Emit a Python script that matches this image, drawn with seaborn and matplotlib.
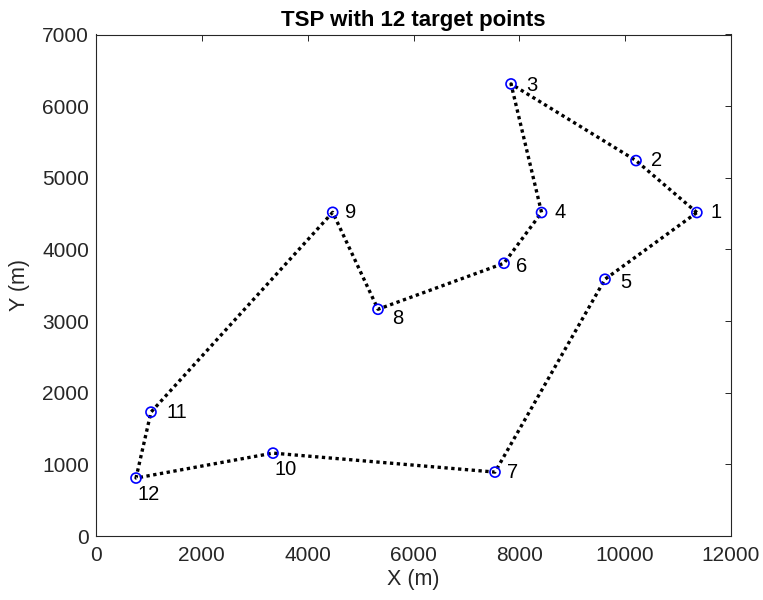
import matplotlib
matplotlib.use("Agg")
import matplotlib.pyplot as plt
import seaborn as sns
import pandas as pd

# Target point coordinates (metres), indexed 1..12
point_ids = [1, 2, 3, 4, 5, 6, 7, 8, 9, 10, 11, 12]
x_coords = [11355, 10205, 7843, 8420, 9619, 7710, 7540, 5329, 4473, 3345, 1039, 756]
y_coords = [4515, 5240, 6310, 4515, 3584, 3807, 892, 3165, 4518, 1157, 1729, 809]

# Visiting order of the tour (closed loop back to the start)
tour_order = [1, 2, 3, 4, 6, 8, 9, 11, 12, 10, 7, 5, 1]

# Tick values
x_ticks = [0, 2000, 4000, 6000, 8000, 10000, 12000]
y_ticks = [0, 1000, 2000, 3000, 4000, 5000, 6000, 7000]

points = pd.DataFrame({"id": point_ids, "x": x_coords, "y": y_coords})
tour = points.set_index("id").loc[tour_order].reset_index()

sns.set_style("white")
text_color = "#262626"
plt.rcParams["font.family"] = ["Liberation Sans", "DejaVu Sans"]
plt.rcParams["text.color"] = text_color
plt.rcParams["axes.labelcolor"] = text_color
plt.rcParams["xtick.color"] = text_color
plt.rcParams["ytick.color"] = text_color

fig = plt.figure(figsize=(7.63, 6.0), dpi=100)
ax = fig.add_axes([96 / 763, 1 - 536 / 600, (731 - 96) / 763, (536 - 34.5) / 600])

sns.lineplot(data=tour, x="x", y="y", sort=False, estimator=None, ax=ax,
             color="black", linewidth=2.4, linestyle=(0, (1, 1.05)))
sns.scatterplot(data=points, x="x", y="y", ax=ax, marker="o", s=52,
                facecolors="none", edgecolor="#0000FF", linewidth=1.2, zorder=3)

# Label offsets in points relative to each target
label_offsets = {1: (10, 0), 2: (11, 0), 3: (11, -1), 4: (9, 0), 5: (11, -2),
                 6: (9, -2), 7: (9, 0), 8: (10, -7), 9: (9, 0), 10: (1, -12),
                 11: (11, 0), 12: (1, -12)}
for pid, px, py in zip(point_ids, x_coords, y_coords):
    dx, dy = label_offsets[pid]
    ax.annotate(str(pid), (px, py), xytext=(dx, dy), textcoords="offset points",
                ha="left", va="center", fontsize=14.5, color="black")

ax.set_xlim(0, 12000)
ax.set_ylim(0, 7000)
ax.set_xticks(x_ticks)
ax.set_yticks(y_ticks)
ax.tick_params(direction="in", length=4.5, width=0.7, top=True, right=True,
               labelsize=15)
ax.tick_params(axis="x", pad=7)
ax.tick_params(axis="y", pad=5)
for spine in ax.spines.values():
    spine.set_visible(True)
    spine.set_color(text_color)
    spine.set_linewidth(0.8)

ax.set_xlabel("X (m)", fontsize=15.5, labelpad=3)
ax.set_ylabel("Y (m)", fontsize=15.5, labelpad=9)
ax.set_title("TSP with 12 target points", fontsize=16, fontweight="bold",
             color="black", pad=6)

fig.savefig("out.png", dpi=100)
